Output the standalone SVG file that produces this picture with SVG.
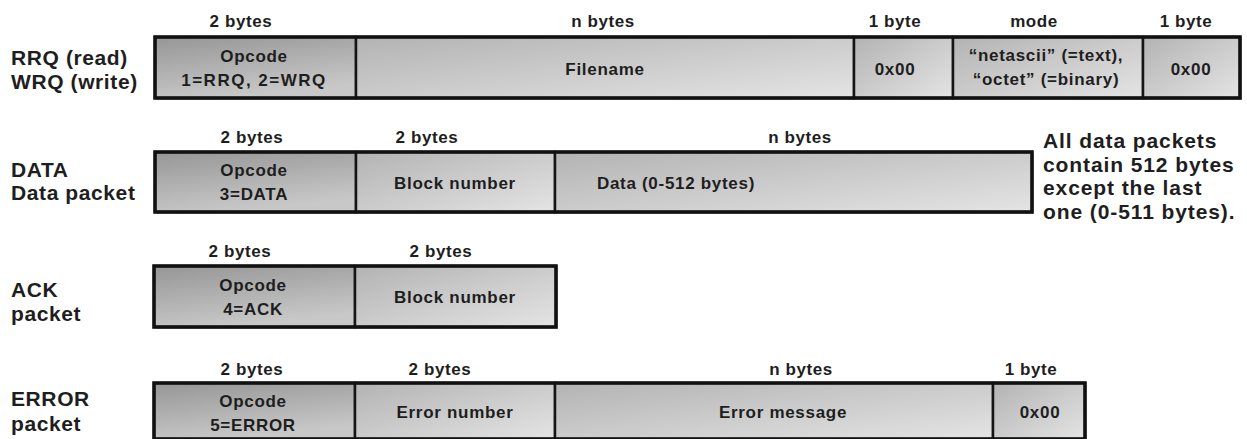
<svg xmlns="http://www.w3.org/2000/svg" width="1247" height="439" viewBox="0 0 1247 439">
  <defs>
    <linearGradient id="gOp" x1="0" y1="0" x2="0.35" y2="1">
      <stop offset="0" stop-color="#969696"/>
      <stop offset="1" stop-color="#c8c8c8"/>
    </linearGradient>
    <linearGradient id="gField" x1="0" y1="0" x2="1" y2="1">
      <stop offset="0" stop-color="#b3b3b3"/>
      <stop offset="1" stop-color="#e4e4e4"/>
    </linearGradient>
  </defs>
  <style>
    text { font-family: "Liberation Sans", Arial, Helvetica, sans-serif; font-weight: bold; fill: #1e1e1e; }
    .hdr { font-size: 17px; letter-spacing: 0.6px; text-anchor: middle; }
    .cell { font-size: 17px; letter-spacing: 0.7px; text-anchor: middle; }
    .wide { letter-spacing: 1.5px; }
    .name { font-size: 21px; letter-spacing: 0.6px; }
    .note { font-size: 21px; letter-spacing: 0.9px; }
    .op { fill: url(#gOp); stroke: #151515; stroke-width: 2.5; }
    .fld { fill: url(#gField); stroke: #151515; stroke-width: 2.5; }
    .frame { fill: none; stroke: #111; stroke-width: 3.5; }
    .shadow { fill: #9a9a9a; opacity: 0.45; }
  </style>
  <rect width="1247" height="439" fill="#ffffff"/>

  <!-- RRQ / WRQ request packet -->
  <g id="rrq-wrq">
    <text class="name" x="11" y="65">RRQ (read)</text>
    <text class="name" x="11" y="89">WRQ (write)</text>
    <text class="hdr" x="241" y="27">2 bytes</text>
    <text class="hdr" x="603" y="27">n bytes</text>
    <text class="hdr" x="895" y="27">1 byte</text>
    <text class="hdr" x="1034" y="27">mode</text>
    <text class="hdr" x="1186" y="27">1 byte</text>
    <rect class="shadow" x="157" y="39" width="1085" height="61"/>
    <g id="rrq-opcode">
      <rect class="op" x="155" y="37" width="201" height="61"/>
      <text class="cell" x="254" y="62">Opcode</text>
      <text class="cell wide" x="254" y="86">1=RRQ, 2=WRQ</text>
    </g>
    <g id="rrq-filename">
      <rect class="fld" x="356" y="37" width="498" height="61"/>
      <text class="cell" x="605" y="75">Filename</text>
    </g>
    <g id="rrq-null1">
      <rect class="fld" x="854" y="37" width="99" height="61"/>
      <text class="cell" x="895" y="75">0x00</text>
    </g>
    <g id="rrq-mode">
      <rect class="fld" x="953" y="37" width="190" height="61"/>
      <text class="cell" x="1046" y="61">“netascii” (=text),</text>
      <text class="cell" x="1046" y="85">“octet” (=binary)</text>
    </g>
    <g id="rrq-null2">
      <rect class="fld" x="1143" y="37" width="97" height="61"/>
      <text class="cell" x="1191" y="75">0x00</text>
    </g>
    <rect class="frame" x="155" y="37" width="1085" height="61"/>
  </g>

  <!-- DATA packet -->
  <g id="data">
    <text class="name" x="11" y="177">DATA</text>
    <text class="name" x="11" y="200">Data packet</text>
    <text class="hdr" x="252" y="143">2 bytes</text>
    <text class="hdr" x="427" y="143">2 bytes</text>
    <text class="hdr" x="800" y="143">n bytes</text>
    <rect class="shadow" x="157" y="154" width="877" height="60"/>
    <g id="data-opcode">
      <rect class="op" x="155" y="152" width="201" height="60"/>
      <text class="cell" x="254" y="176">Opcode</text>
      <text class="cell" x="254" y="200">3=DATA</text>
    </g>
    <g id="data-block">
      <rect class="fld" x="356" y="152" width="199" height="60"/>
      <text class="cell" x="455" y="189">Block number</text>
    </g>
    <g id="data-payload">
      <rect class="fld" x="555" y="152" width="477" height="60"/>
      <text class="cell" x="676" y="189">Data (0-512 bytes)</text>
    </g>
    <rect class="frame" x="155" y="152" width="877" height="60"/>
    <g id="data-note">
      <text class="note" x="1043" y="148">All data packets</text>
      <text class="note" x="1043" y="172">contain 512 bytes</text>
      <text class="note" x="1043" y="195">except the last</text>
      <text class="note" x="1043" y="219">one (0-511 bytes).</text>
    </g>
  </g>

  <!-- ACK packet -->
  <g id="ack">
    <text class="name" x="11" y="297">ACK</text>
    <text class="name" x="11" y="321">packet</text>
    <text class="hdr" x="240" y="257">2 bytes</text>
    <text class="hdr" x="441" y="257">2 bytes</text>
    <rect class="shadow" x="156" y="268" width="402" height="61"/>
    <g id="ack-opcode">
      <rect class="op" x="154" y="266" width="201" height="61"/>
      <text class="cell" x="253" y="291">Opcode</text>
      <text class="cell" x="253" y="315">4=ACK</text>
    </g>
    <g id="ack-block">
      <rect class="fld" x="355" y="266" width="201" height="61"/>
      <text class="cell" x="455" y="303">Block number</text>
    </g>
    <rect class="frame" x="154" y="266" width="402" height="61"/>
  </g>

  <!-- ERROR packet -->
  <g id="error">
    <text class="name" x="11" y="406">ERROR</text>
    <text class="name" x="11" y="431">packet</text>
    <text class="hdr" x="252" y="375">2 bytes</text>
    <text class="hdr" x="440" y="375">2 bytes</text>
    <text class="hdr" x="801" y="375">n bytes</text>
    <text class="hdr" x="1031" y="375">1 byte</text>
    <rect class="shadow" x="156" y="385" width="931" height="56"/>
    <g id="error-opcode">
      <rect class="op" x="154" y="383" width="201" height="56"/>
      <text class="cell" x="253" y="407">Opcode</text>
      <text class="cell" x="253" y="431">5=ERROR</text>
    </g>
    <g id="error-code">
      <rect class="fld" x="355" y="383" width="200" height="56"/>
      <text class="cell" x="455" y="418">Error number</text>
    </g>
    <g id="error-message">
      <rect class="fld" x="555" y="383" width="438" height="56"/>
      <text class="cell" x="783" y="418">Error message</text>
    </g>
    <g id="error-null">
      <rect class="fld" x="993" y="383" width="92" height="56"/>
      <text class="cell" x="1040" y="418">0x00</text>
    </g>
    <rect class="frame" x="154" y="383" width="931" height="56"/>
  </g>
</svg>
